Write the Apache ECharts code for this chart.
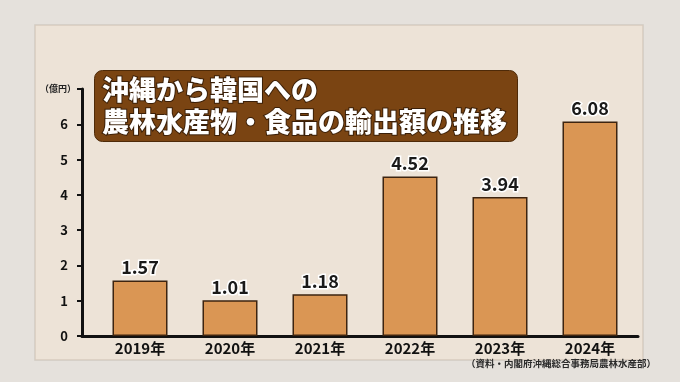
<!DOCTYPE html>
<html>
<head>
<meta charset="utf-8">
<script src="https://cdn.jsdelivr.net/npm/echarts@6/dist/echarts.min.js"></script>
<style>
html,body{margin:0;padding:0;background:#e5e1dc;}
#chart{width:680px;height:382px;}
</style>
</head>
<body>
<div id="chart"></div>
<script>
const categories = ['2019年', '2020年', '2021年', '2022年', '2023年', '2024年'];
const values = [1.57, 1.01, 1.18, 4.52, 3.94, 6.08];
const yTicks = [0, 1, 2, 3, 4, 5, 6];
const titleText = '沖縄から韓国への\n農林水産物・食品の輸出額の推移';
const unitText = '（億円）';
const sourceText = '（資料・内閣府沖縄総合事務局農林水産部）';

const FONT = '"Noto Sans CJK JP", "Noto Sans", sans-serif';
const chart = echarts.init(document.getElementById('chart'), null, {renderer: 'canvas'});

chart.setOption({
  backgroundColor: '#e5e1dc',
  animation: false,
  graphic: [{
    type: 'rect',
    z: -10,
    shape: {x: 35, y: 25, width: 608, height: 335},
    style: {fill: '#ede3d7', stroke: 'rgba(120,100,80,0.18)', lineWidth: 1.5}
  }],
  title: [{
    text: titleText,
    left: 95,
    top: 70,
    padding: [4, 10, 4, 7],
    backgroundColor: '#7a4412',
    borderColor: '#4e2a08',
    borderWidth: 1,
    borderRadius: 8,
    textStyle: {
      fontFamily: FONT,
      fontSize: 27,
      fontWeight: 900,
      color: '#ffffff',
      lineHeight: 32,
      textBorderColor: '#3a1f08',
      textBorderWidth: 2
    }
  }, {
    text: sourceText,
    right: 24,
    top: 359,
    padding: 0,
    textStyle: {
      fontFamily: FONT,
      fontSize: 9.5,
      fontWeight: 'bold',
      color: '#2a2a2a'
    }
  }],
  grid: [
    {left: 95, width: 540, top: 89, bottom: 46},
    {left: 82, right: 42, top: 89, bottom: 46}
  ],
  xAxis: [{
    type: 'category',
    gridIndex: 0,
    data: categories,
    axisLine: {show: false},
    axisTick: {show: false},
    axisLabel: {
      margin: 5,
      fontFamily: FONT,
      fontSize: 15,
      fontWeight: 'bold',
      color: '#111'
    }
  }, {
    type: 'value',
    gridIndex: 1,
    min: 0,
    max: 1,
    axisLine: {show: true, lineStyle: {color: '#111', width: 3}},
    axisTick: {show: false},
    axisLabel: {show: false},
    splitLine: {show: false}
  }],
  yAxis: [{
    type: 'value',
    gridIndex: 0,
    min: 0,
    max: 7,
    show: false
  }, {
    type: 'value',
    gridIndex: 1,
    min: 0,
    max: 7,
    interval: 1,
    name: unitText,
    nameLocation: 'end',
    nameGap: 0,
    nameTextStyle: {
      fontFamily: FONT,
      fontSize: 9,
      fontWeight: 'bold',
      color: '#222',
      align: 'right',
      verticalAlign: 'middle',
      padding: [0, 6, 0, 0]
    },
    axisLine: {show: true, lineStyle: {color: '#111', width: 3}},
    axisTick: {show: true, length: 5, lineStyle: {color: '#111', width: 2}},
    axisLabel: {
      margin: 14,
      fontFamily: FONT,
      fontSize: 13,
      fontWeight: 'bold',
      color: '#111',
      formatter: function (v) { return yTicks.indexOf(v) >= 0 ? String(v) : ''; }
    },
    splitLine: {show: false}
  }],
  series: [{
    type: 'bar',
    xAxisIndex: 0,
    yAxisIndex: 0,
    data: values,
    barWidth: 55,
    itemStyle: {color: '#da9654', borderColor: '#3d2410', borderWidth: 1.5},
    label: {
      show: true,
      position: 'top',
      distance: 4,
      fontFamily: FONT,
      fontSize: 18,
      fontWeight: 600,
      color: '#1a1a1a',
      textBorderColor: '#ffffff',
      textBorderWidth: 3,
      formatter: function (p) { return p.value.toFixed(2); }
    }
  }]
});
</script>
</body>
</html>
